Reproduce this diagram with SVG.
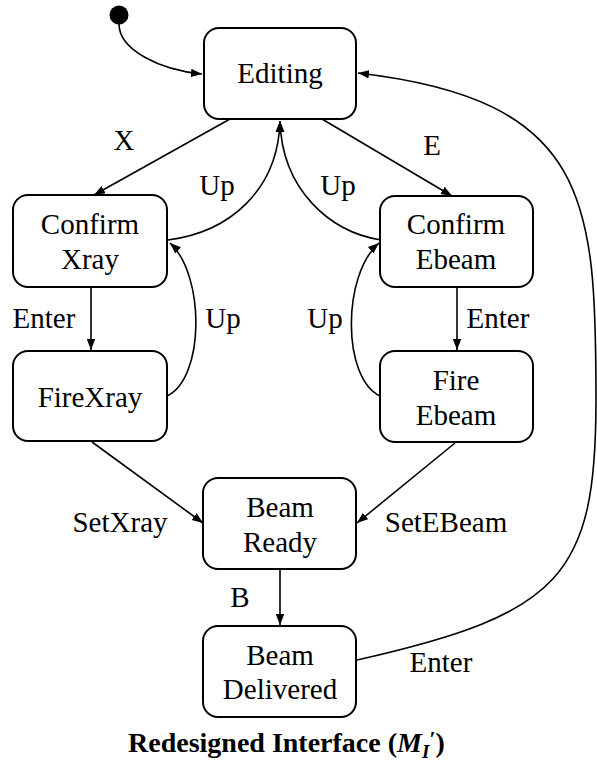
<svg xmlns="http://www.w3.org/2000/svg" width="597" height="773" viewBox="0 0 597 773">
<style>
.box{fill:#fff;stroke:#000;stroke-width:2}
.e{fill:none;stroke:#000;stroke-width:1.6}
</style>
<defs>
<marker id="ah" markerUnits="userSpaceOnUse" markerWidth="12" markerHeight="10" refX="11" refY="5" orient="auto">
<path d="M0,0.8 L11,5 L0,9.2 Z" fill="#000"/>
</marker>
</defs>
<rect width="597" height="773" fill="#fff"/>
<g id="connectors">
<path class="e" d="M119,24 C119,50 160,70 202,74" marker-end="url(#ah)"/>
<path class="e" d="M230,119 L94,195" marker-end="url(#ah)"/>
<path class="e" d="M322,119 L452,196" marker-end="url(#ah)"/>
<path class="e" d="M168,240 C230,232 278,190 280,121" marker-end="url(#ah)"/>
<path class="e" d="M381,240 C330,232 282,190 280,121" marker-end="url(#ah)"/>
<path class="e" d="M167,396 C205,378 205,275 170,243" marker-end="url(#ah)"/>
<path class="e" d="M380,396 C342,378 342,275 379,243" marker-end="url(#ah)"/>
<path class="e" d="M91,288 L91,350" marker-end="url(#ah)"/>
<path class="e" d="M457,288 L457,350" marker-end="url(#ah)"/>
<path class="e" d="M92,442 L203,523" marker-end="url(#ah)"/>
<path class="e" d="M455,443 L357,523" marker-end="url(#ah)"/>
<path class="e" d="M280,570 L280,625" marker-end="url(#ah)"/>
<path class="e" d="M357,660 C561,614 596,576 596,400 C596,200 590,100 358,73" marker-end="url(#ah)"/>
<text font-family="Liberation Serif" font-size="29" text-anchor="middle" x="124" y="150">X</text>
<text font-family="Liberation Serif" font-size="29" text-anchor="middle" x="432" y="155">E</text>
<text font-family="Liberation Serif" font-size="29" text-anchor="middle" x="217" y="195">Up</text>
<text font-family="Liberation Serif" font-size="29" text-anchor="middle" x="338" y="195">Up</text>
<text font-family="Liberation Serif" font-size="29" text-anchor="middle" x="44" y="328">Enter</text>
<text font-family="Liberation Serif" font-size="29" text-anchor="middle" x="223" y="328">Up</text>
<text font-family="Liberation Serif" font-size="29" text-anchor="middle" x="325" y="328">Up</text>
<text font-family="Liberation Serif" font-size="29" text-anchor="middle" x="498" y="328">Enter</text>
<text font-family="Liberation Serif" font-size="29" text-anchor="middle" x="120" y="532">SetXray</text>
<text font-family="Liberation Serif" font-size="29" text-anchor="middle" x="446" y="532">SetEBeam</text>
<text font-family="Liberation Serif" font-size="29" text-anchor="middle" x="240" y="607">B</text>
<text font-family="Liberation Serif" font-size="29" text-anchor="middle" x="441" y="672">Enter</text>
</g>
<g id="initial"><circle cx="119" cy="15" r="9.5" fill="#000"/></g>
<g id="editing"><rect class="box" x="204" y="28" width="152" height="91" rx="15"/><text font-family="Liberation Serif" font-size="29" text-anchor="middle" x="280" y="83">Editing</text></g>
<g id="confirmXray"><rect class="box" x="13" y="195" width="154" height="92" rx="15"/><text font-family="Liberation Serif" font-size="29" text-anchor="middle" x="90" y="234">Confirm</text><text font-family="Liberation Serif" font-size="29" text-anchor="middle" x="90" y="269">Xray</text></g>
<g id="confirmEbeam"><rect class="box" x="380" y="196" width="153" height="91" rx="15"/><text font-family="Liberation Serif" font-size="29" text-anchor="middle" x="456" y="234">Confirm</text><text font-family="Liberation Serif" font-size="29" text-anchor="middle" x="456" y="269">Ebeam</text></g>
<g id="fireXray"><rect class="box" x="13" y="351" width="154" height="90" rx="15"/><text font-family="Liberation Serif" font-size="29" text-anchor="middle" x="90" y="407">FireXray</text></g>
<g id="fireEbeam"><rect class="box" x="380" y="351" width="153" height="91" rx="15"/><text font-family="Liberation Serif" font-size="29" text-anchor="middle" x="456" y="390">Fire</text><text font-family="Liberation Serif" font-size="29" text-anchor="middle" x="456" y="425">Ebeam</text></g>
<g id="beamReady"><rect class="box" x="203" y="478" width="153" height="91" rx="15"/><text font-family="Liberation Serif" font-size="29" text-anchor="middle" x="280" y="517">Beam</text><text font-family="Liberation Serif" font-size="29" text-anchor="middle" x="280" y="552">Ready</text></g>
<g id="beamDelivered"><rect class="box" x="203" y="626" width="153" height="91" rx="15"/><text font-family="Liberation Serif" font-size="29" text-anchor="middle" x="280" y="665">Beam</text><text font-family="Liberation Serif" font-size="29" text-anchor="middle" x="280" y="699">Delivered</text></g>
<g id="title"><text font-family="Liberation Serif" font-size="28" font-weight="bold" x="128" y="752">Redesigned Interface (<tspan font-style="italic">M</tspan><tspan font-style="italic" font-size="19" dy="6">I</tspan><tspan font-size="22" dy="-12">′</tspan><tspan dy="6">)</tspan></text></g>
</svg>
